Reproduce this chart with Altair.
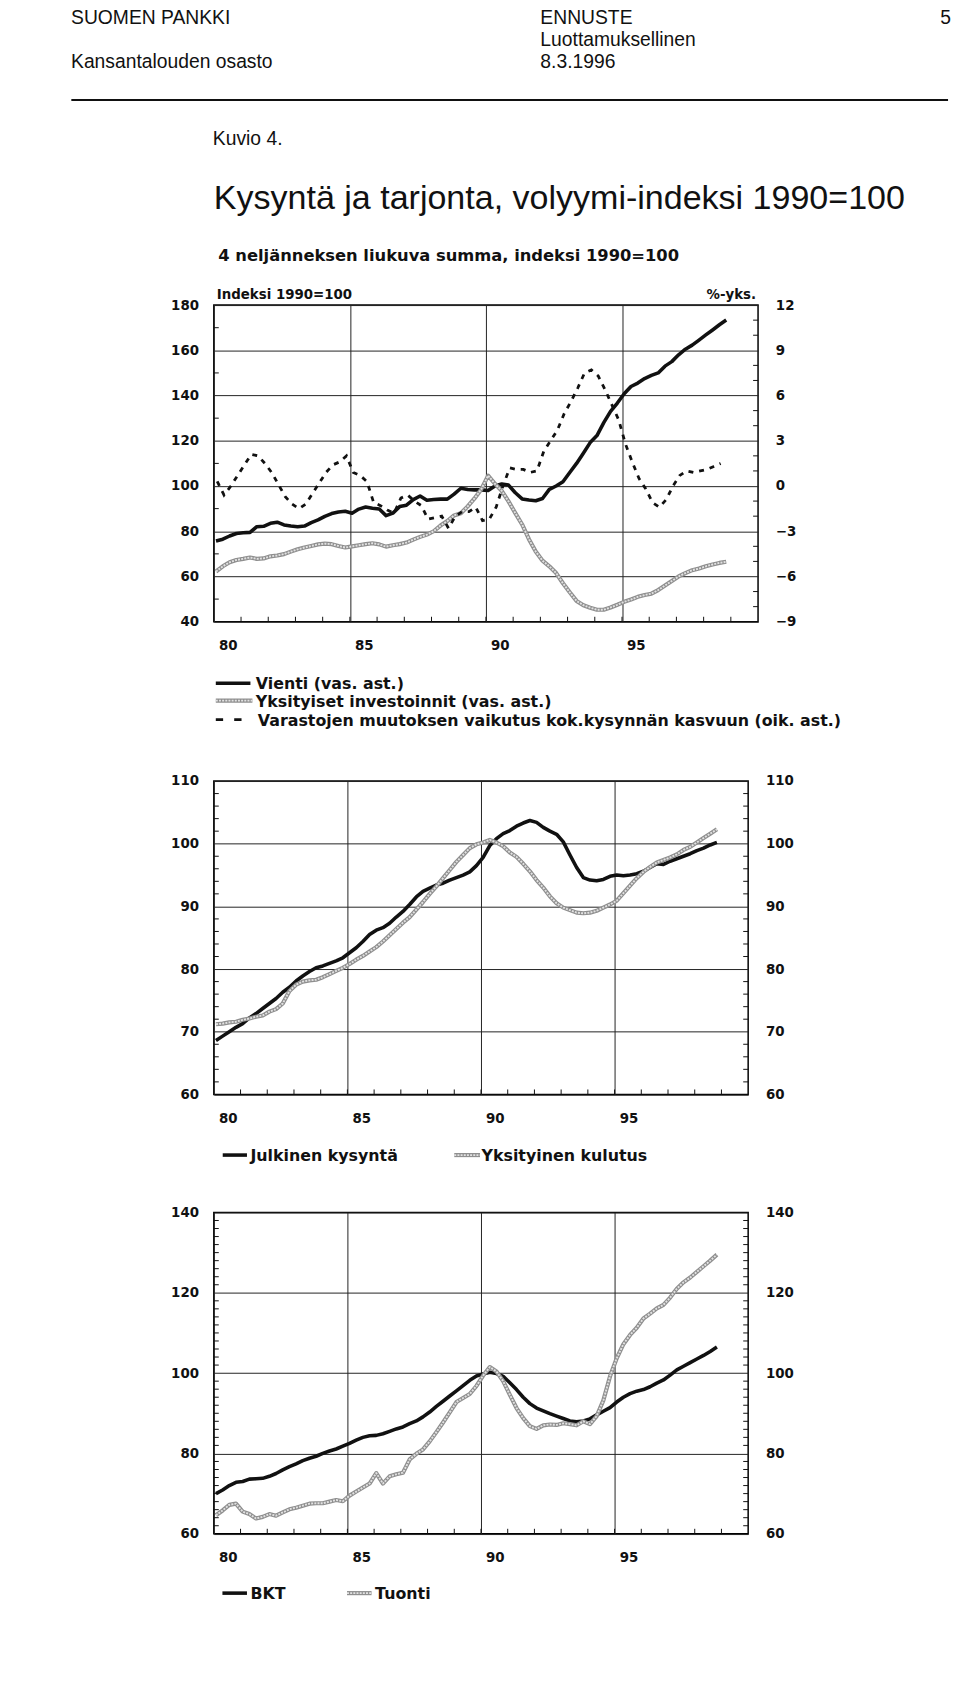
import altair as alt
import pandas as pd

HDR = "Liberation Sans, Arial, Helvetica, sans-serif"
LBL = "DejaVu Sans, Verdana, sans-serif"
INK = "#111111"
GRAY_OUT = "#8f8f8f"
GRAY_IN = "#e2e2e2"

# ---------------- data (quarterly, 4-quarter moving sums, 1990=100) ----------------
years = list(range(1980, 1999))
t = [y + q / 4 + 0.08 for y in years for q in range(4)]
t_var = [1980.125 + 0.25 * i for i in range(75)]

vienti = [75.7, 76.5, 77.9, 79.0, 79.3, 79.5, 82.0, 82.2, 83.5, 84.0, 82.8, 82.3,
          82.0, 82.3, 83.8, 85.0, 86.6, 87.8, 88.5, 88.8, 88.0, 89.8, 90.7, 90.2,
          89.8, 86.9, 88.0, 90.9, 91.5, 94.0, 95.6, 93.7, 94.0, 94.2, 94.2, 96.4,
          99.0, 98.5, 98.3, 98.3, 98.0, 100.0, 100.9, 100.4, 97.0, 94.3, 93.8, 93.5,
          94.5, 98.5, 100.0, 101.9, 106.0, 110.0, 114.5, 119.2, 122.3, 128.0, 133.0, 136.7,
          140.8, 144.0, 145.5, 147.5, 148.9, 150.0, 153.0, 155.0, 158.0, 160.5, 162.3, 164.5,
          166.8, 169.0, 171.3, 173.4]
investoinnit = [62.2, 64.5, 66.3, 67.3, 67.8, 68.4, 67.8, 68.0, 68.9, 69.3, 69.9, 71.0,
                72.0, 72.8, 73.5, 74.2, 74.5, 74.3, 73.5, 72.8, 73.3, 73.8, 74.3, 74.7,
                74.2, 73.2, 73.8, 74.3, 75.0, 76.3, 77.5, 78.5, 80.0, 82.5, 84.5, 87.0,
                88.0, 91.0, 94.5, 98.6, 104.6, 101.0, 97.9, 93.2, 88.0, 83.0, 76.5, 71.0,
                67.0, 64.5, 61.5, 57.0, 53.0, 49.2, 47.3, 46.2, 45.3, 45.3, 46.3, 47.5,
                48.8, 49.8, 51.0, 51.8, 52.4, 54.0, 56.0, 58.0, 60.0, 61.5, 62.8, 63.5,
                64.5, 65.3, 66.0, 66.5]
varastot = [0.3, -0.6, 0.0, 0.7, 1.4, 2.1, 2.0, 1.5, 0.9, 0.1, -0.7, -1.2,
            -1.5, -1.2, -0.5, 0.2, 0.9, 1.4, 1.6, 2.0, 0.9, 0.7, 0.3, -1.1,
            -1.3, -1.6, -1.8, -0.8, -0.6, -1.0, -1.3, -2.2, -2.1, -2.0, -2.8, -2.0,
            -1.7, -1.7, -1.4, -2.3, -2.2, -1.4, 0.0, 1.2, 1.1, 1.1, 0.9, 1.0,
            2.3, 3.0, 3.7, 4.8, 5.6, 6.5, 7.5, 7.7, 7.3, 6.4, 5.4, 4.4,
            2.8, 1.6, 0.5, -0.2, -1.1, -1.4, -0.9, 0.0, 0.7, 1.0, 0.9, 1.0,
            1.1, 1.3, 1.5]
julkinen = [68.6, 69.3, 70.0, 70.7, 71.3, 72.2, 72.9, 73.7, 74.5, 75.3, 76.3, 77.1,
            78.1, 78.9, 79.6, 80.2, 80.5, 80.9, 81.3, 81.8, 82.6, 83.4, 84.4, 85.5,
            86.2, 86.6, 87.3, 88.3, 89.2, 90.3, 91.5, 92.4, 92.9, 93.4, 93.7, 94.2,
            94.6, 95.0, 95.5, 96.5, 97.8, 99.7, 100.8, 101.6, 102.1, 102.8, 103.3, 103.7,
            103.4, 102.6, 102.0, 101.5, 100.3, 98.2, 96.2, 94.6, 94.2, 94.1, 94.3, 94.8,
            95.0, 94.9, 95.0, 95.2, 95.6, 96.2, 96.8, 96.7, 97.2, 97.6, 98.0, 98.4,
            98.9, 99.3, 99.8, 100.2]
kulutus = [71.2, 71.3, 71.5, 71.6, 71.9, 72.1, 72.4, 72.6, 73.2, 73.6, 74.5, 76.5,
           77.5, 78.0, 78.2, 78.3, 78.7, 79.2, 79.7, 80.2, 80.8, 81.5, 82.1, 82.8,
           83.5, 84.4, 85.4, 86.4, 87.4, 88.3, 89.5, 90.7, 92.0, 93.2, 94.5, 95.8,
           97.1, 98.2, 99.3, 99.9, 100.2, 100.6, 100.2, 99.6, 98.6, 97.9, 96.8, 95.6,
           94.2, 93.0, 91.6, 90.5, 89.8, 89.4, 89.0, 88.9, 89.0, 89.3, 89.8, 90.3,
           90.9, 92.1, 93.3, 94.5, 95.5, 96.3, 97.0, 97.4, 97.8, 98.3, 99.0, 99.5,
           100.2, 100.9, 101.6, 102.3]
bkt = [70.0, 70.9, 72.0, 72.8, 73.0, 73.6, 73.7, 73.8, 74.3, 75.0, 75.9, 76.7,
       77.4, 78.2, 78.8, 79.3, 80.0, 80.6, 81.1, 81.8, 82.5, 83.3, 84.0, 84.4,
       84.5, 84.9, 85.5, 86.1, 86.6, 87.4, 88.1, 89.1, 90.3, 91.7, 93.0, 94.3,
       95.6, 96.9, 98.2, 99.3, 99.8, 100.2, 99.9, 99.2, 97.6, 95.9, 94.0, 92.4,
       91.3, 90.6, 89.9, 89.3, 88.7, 88.1, 87.9, 88.1, 88.6, 89.6, 90.5, 91.4,
       92.8, 94.0, 94.9, 95.5, 95.9, 96.6, 97.5, 98.3, 99.5, 100.8, 101.7, 102.6,
       103.5, 104.4, 105.4, 106.5]
tuonti = [64.6, 65.8, 67.2, 67.5, 65.5, 64.9, 63.8, 64.2, 64.9, 64.5, 65.3, 66.1,
          66.5, 67.0, 67.5, 67.6, 67.6, 68.0, 68.4, 68.1, 69.5, 70.5, 71.5, 72.5,
          75.1, 72.5, 74.3, 74.8, 75.2, 78.5, 79.9, 81.0, 83.0, 85.3, 87.7, 90.2,
          92.8, 93.8, 94.8, 96.8, 99.4, 101.5, 100.4, 98.0, 94.6, 91.3, 88.8, 86.8,
          86.1, 87.0, 87.2, 87.1, 87.5, 87.3, 87.0, 88.0, 87.3, 89.3, 93.2, 99.2,
          103.7, 107.2, 109.5, 111.3, 113.6, 114.8, 116.1, 117.0, 118.8, 121.0, 122.6, 123.8,
          125.2, 126.6, 128.0, 129.5]

x_label_years = [1980, 1985, 1990, 1995]
year_ticks = list(range(1981, 2000))

one = pd.DataFrame({"k": [0]})


def x_axis():
    return alt.Axis(values=x_label_years, grid=True, ticks=False, domain=False,
                    labelExpr="substring(toString(datum.value), 2, 4)",
                    labelOffset=14, labelPadding=17.5, labelFlush=False, title=None)


def y_axis(vals, orient="left", grid=True):
    return alt.Axis(values=vals, orient=orient, grid=grid, ticks=False, domain=False,
                    labelPadding=15.5 if orient == "left" else 17.5,
                    labelFlush=False, title=None)


def txt(s, x, y, size, font=LBL, weight="bold", align="left", baseline="alphabetic"):
    return alt.Chart(one).mark_text(align=align, baseline=baseline, font=font, fontSize=size,
                                    fontWeight=weight, color=INK).encode(
        x=alt.value(x), y=alt.value(y), text=alt.value(s))


def seg(x1, x2, y, color, width, dash=None):
    kw = {"strokeDash": dash} if dash else {}
    return alt.Chart(one).mark_rule(color=color, strokeWidth=width, **kw).encode(
        x=alt.value(x1), x2=alt.value(x2), y=alt.value(y))


def ticks_y(vals, scale, side, W):
    df = pd.DataFrame({"v": vals})
    x1, x2 = (0, 5) if side == "left" else (W - 5, W)
    return alt.Chart(df).mark_rule(color=INK, strokeWidth=1).encode(
        y=alt.Y("v:Q", scale=scale, axis=None), x=alt.value(x1), x2=alt.value(x2))


def ticks_x(scale, H):
    df = pd.DataFrame({"yr": year_ticks})
    return alt.Chart(df).mark_rule(color=INK, strokeWidth=1).encode(
        x=alt.X("yr:Q", scale=scale, axis=x_axis()), y=alt.value(H - 5), y2=alt.value(H))


def gray_line(df, field, xs, ys, axis=None):
    outer = alt.Chart(df).mark_line(color=GRAY_OUT, strokeWidth=4.2, strokeJoin="round").encode(
        x=alt.X("t:Q", scale=xs, axis=x_axis()), y=alt.Y(f"{field}:Q", scale=ys, axis=axis))
    inner = alt.Chart(df).mark_line(color=GRAY_IN, strokeWidth=1.9, strokeJoin="round",
                                    strokeDash=[2, 1.2]).encode(
        x=alt.X("t:Q", scale=xs, axis=x_axis()), y=alt.Y(f"{field}:Q", scale=ys, axis=None))
    return outer, inner


def black_line(df, field, xs, ys, axis):
    return alt.Chart(df).mark_line(color=INK, strokeWidth=3.6, strokeJoin="round").encode(
        x=alt.X("t:Q", scale=xs, axis=x_axis()), y=alt.Y(f"{field}:Q", scale=ys, axis=axis))


def gray_legend(x1, x2, y):
    return [seg(x1, x2, y, GRAY_OUT, 4.2), seg(x1, x2, y, GRAY_IN, 1.9, [2, 1.2])]


# ---------------- panel 1 ----------------
W1, H1 = 550, 320
xs1 = alt.Scale(domain=[1980, 2000], nice=False, zero=False)
yl1 = alt.Scale(domain=[40, 180], nice=False, zero=False)
yr1 = alt.Scale(domain=[-9, 12], nice=False, zero=False)
d1 = pd.DataFrame({"t": t, "vienti": vienti, "inv": investoinnit})
dv = pd.DataFrame({"t": t_var, "var": varastot})

v_line = black_line(d1, "vienti", xs1, yl1, y_axis(list(range(40, 181, 20))))
inv_o, inv_i = gray_line(d1, "inv", xs1, yl1)
var_line = alt.Chart(dv).mark_line(color=INK, strokeWidth=2.8, strokeDash=[5, 6]).encode(
    x=alt.X("t:Q", scale=xs1, axis=x_axis()),
    y=alt.Y("var:Q", scale=yr1, axis=y_axis(list(range(-9, 13, 3)), "right", False)))

header = [
    txt("SUOMEN PANKKI", -144.3, -284.3, 19.5, HDR, "normal"),
    txt("ENNUSTE", 330, -284.3, 19.5, HDR, "normal"),
    txt("5", 734, -284.3, 19.5, HDR, "normal"),
    txt("Luottamuksellinen", 330, -261.8, 19.5, HDR, "normal"),
    txt("Kansantalouden osasto", -144.3, -239.3, 19.5, HDR, "normal"),
    txt("8.3.1996", 330, -239.3, 19.5, HDR, "normal"),
    seg(-144, 742, -207.2, INK, 2),
    txt("Kuvio 4.", -1, -161.4, 19.5, HDR, "normal"),
    txt("Kysyntä ja tarjonta, volyymi-indeksi 1990=100", 0, -97.1, 34.4, HDR, "normal"),
    txt("4 neljänneksen liukuva summa, indeksi 1990=100", 4.5, -44.1, 16.5),
    txt("Indeksi 1990=100", 3, -6, 13.5),
    txt("%-yks.", 548, -6, 13.5, align="right"),
]
legend1 = [
    seg(2, 37, 382.2, INK, 3.6),
    txt("Vienti (vas. ast.)", 42.5, 383.2, 16, baseline="middle"),
    *gray_legend(2, 39, 399.8),
    txt("Yksityiset investoinnit (vas. ast.)", 42.5, 400.8, 16, baseline="middle"),
    seg(2, 28, 419, INK, 2.8, [7.4, 11.2]),
    txt("Varastojen muutoksen vaikutus kok.kysynnän kasvuun (oik. ast.)", 44.5, 420, 16,
        baseline="middle"),
]
c1 = alt.layer(
    v_line, inv_o, inv_i, var_line,
    ticks_y(list(range(50, 180, 20)), yl1, "left", W1),
    ticks_y([v for v in range(-8, 12) if v % 3 != 0], yr1, "right", W1),
    ticks_x(xs1, H1),
    *header, *legend1,
).resolve_scale(y="independent").properties(width=W1, height=H1)

# ---------------- panel 2 ----------------
W2, H2 = 540, 316.7
xs2 = alt.Scale(domain=[1980, 2000], nice=False, zero=False)
ys2 = alt.Scale(domain=[60, 110], nice=False, zero=False)
d2 = pd.DataFrame({"t": t, "julk": julkinen, "kul": kulutus})
vals2 = list(range(60, 111, 10))
minor2 = [v for v in range(62, 110, 2) if v % 10 != 0]
j_line = black_line(d2, "julk", xs2, ys2, y_axis(vals2))
k_o, k_i = gray_line(d2, "kul", xs2, ys2, y_axis(vals2, "right", False))
legend2 = [
    seg(9, 33.5, 378, INK, 3.6),
    txt("Julkinen kysyntä", 37, 379, 16, baseline="middle"),
    *gray_legend(243, 269, 378),
    txt("Yksityinen kulutus", 270.5, 379, 16, baseline="middle"),
]
c2 = alt.layer(
    j_line, k_o, k_i,
    ticks_y(minor2, ys2, "left", W2), ticks_y(minor2, ys2, "right", W2), ticks_x(xs2, H2),
    *legend2,
).resolve_scale(y="independent").properties(width=W2, height=H2)

# ---------------- panel 3 ----------------
W3, H3 = 540, 324.7
xs3 = alt.Scale(domain=[1980, 2000], nice=False, zero=False)
ys3 = alt.Scale(domain=[60, 140], nice=False, zero=False)
d3 = pd.DataFrame({"t": t, "bkt": bkt, "tuonti": tuonti})
vals3 = list(range(60, 141, 20))
minor3 = [v for v in range(62, 140, 2) if v % 20 != 0]
b_line = black_line(d3, "bkt", xs3, ys3, y_axis(vals3))
tu_o, tu_i = gray_line(d3, "tuonti", xs3, ys3, y_axis(vals3, "right", False))
legend3 = [
    seg(8.7, 33.5, 384.7, INK, 3.6),
    txt("BKT", 37, 385.7, 16, baseline="middle"),
    *gray_legend(134.6, 159.4, 384.7),
    txt("Tuonti", 163, 385.7, 16, baseline="middle"),
]
c3 = alt.layer(
    b_line, tu_o, tu_i,
    ticks_y(minor3, ys3, "left", W3), ticks_y(minor3, ys3, "right", W3), ticks_x(xs3, H3),
    *legend3,
).resolve_scale(y="independent").properties(width=W3, height=H3)


def spacer(h):
    return alt.Chart(one).mark_text().encode(
        text=alt.value(""), x=alt.value(0), y=alt.value(0)
    ).properties(width=540, height=h, view=alt.ViewBackground(stroke="transparent"))


chart = alt.vconcat(
    c1, spacer(160.3), c2, spacer(118.1), c3, spacing=0, bounds="flush"
).properties(
    padding={"left": 62, "top": -10.3, "right": 0, "bottom": 6}
).configure_view(
    stroke="black", strokeWidth=1.5
).configure_axis(
    labelFont=LBL, labelFontSize=13.5, labelFontWeight="bold", labelColor=INK,
    gridColor="#222222", gridWidth=1
)

chart.save("out.html", embed_options={"renderer": "svg", "actions": False})
